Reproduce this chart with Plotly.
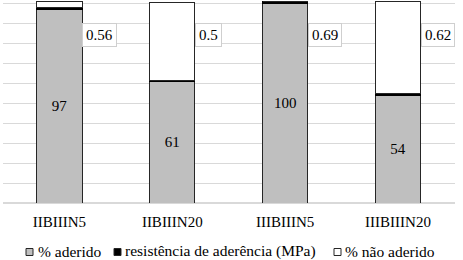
import plotly.graph_objects as go

categories = ["IIBIIIN5", "IIBIIIN20", "IIIBIIIN5", "IIIBIIIN20"]
aderido = [97, 61, 100, 54]
resistencia = [0.56, 0.5, 0.69, 0.62]
nao_aderido = [3, 39, 0, 46]
series_names = ["% aderido", "resistência de aderência (MPa)", "% não aderido"]
series_colors = ["#bfbfbf", "#000000", "#ffffff"]

FONT = "Times New Roman"
W, H = 463, 260
L, R, T, B = 3, 8, 1, 57
PW, PH = W - L - R, H - T - B


def px_x(px):
    return (px - L) / PW


def px_y(py):
    return (H - B - py) / PH


fig = go.Figure()
fig.add_trace(go.Bar(
    name=series_names[0], x=categories, y=aderido,
    marker=dict(color=series_colors[0], line=dict(color="#262626", width=1)),
    text=[str(v) for v in aderido], textposition="inside",
    insidetextanchor="middle", textfont=dict(color="#000000", size=15, family=FONT),
))
fig.add_trace(go.Bar(
    name=series_names[1], x=categories, y=resistencia,
    marker=dict(color=series_colors[1], line=dict(color="#000000", width=1)),
))
fig.add_trace(go.Bar(
    name=series_names[2], x=categories, y=nao_aderido,
    marker=dict(color=series_colors[2], line=dict(color="#262626", width=1)),
))

# boxed data labels for resistance
for c, v in zip(categories, resistencia):
    fig.add_annotation(
        x=c, y=84, text=f"{v:g}", showarrow=False,
        xanchor="left", yanchor="middle", xshift=23,
        bgcolor="#ffffff", bordercolor="#cfcfcf", borderwidth=1, borderpad=3,
        font=dict(family=FONT, size=15, color="#000000"),
    )

# legend (drawn manually to match compact spacing)
leg_sym_x = [26, 114, 334]
leg_txt_x = [36, 123, 343]
leg_cy = 251
for name, col, sx, tx in zip(series_names, series_colors, leg_sym_x, leg_txt_x):
    fig.add_shape(
        type="rect", xref="paper", yref="paper",
        x0=px_x(sx), x1=px_x(sx + 7), y0=px_y(leg_cy + 4.5), y1=px_y(leg_cy - 2.5),
        fillcolor=col, line=dict(color="#262626", width=1),
    )
    fig.add_annotation(
        x=px_x(tx), y=px_y(leg_cy), xref="paper", yref="paper", text=name,
        showarrow=False, xanchor="left", yanchor="middle",
        font=dict(family=FONT, size=15.5, color="#000000"),
    )

fig.update_layout(
    barmode="stack", bargap=0.6,
    width=W, height=H,
    margin=dict(l=L, r=R, t=T, b=B, autoexpand=False),
    paper_bgcolor="#ffffff", plot_bgcolor="#ffffff",
    font=dict(family=FONT, size=15, color="#000000"),
    showlegend=False,
    xaxis=dict(showline=False, ticks="", tickfont=dict(family=FONT, size=15),
               ticklabelstandoff=8, automargin=False),
    yaxis=dict(range=[0, 101], dtick=10, showticklabels=False, showgrid=True,
               gridcolor="#d9d9d9", zeroline=True, zerolinecolor="#d9d9d9", ticks="",
               automargin=False),
)

fig.write_html("out.html", post_script="document.body.style.margin='0';",
               config={"displayModeBar": False})
